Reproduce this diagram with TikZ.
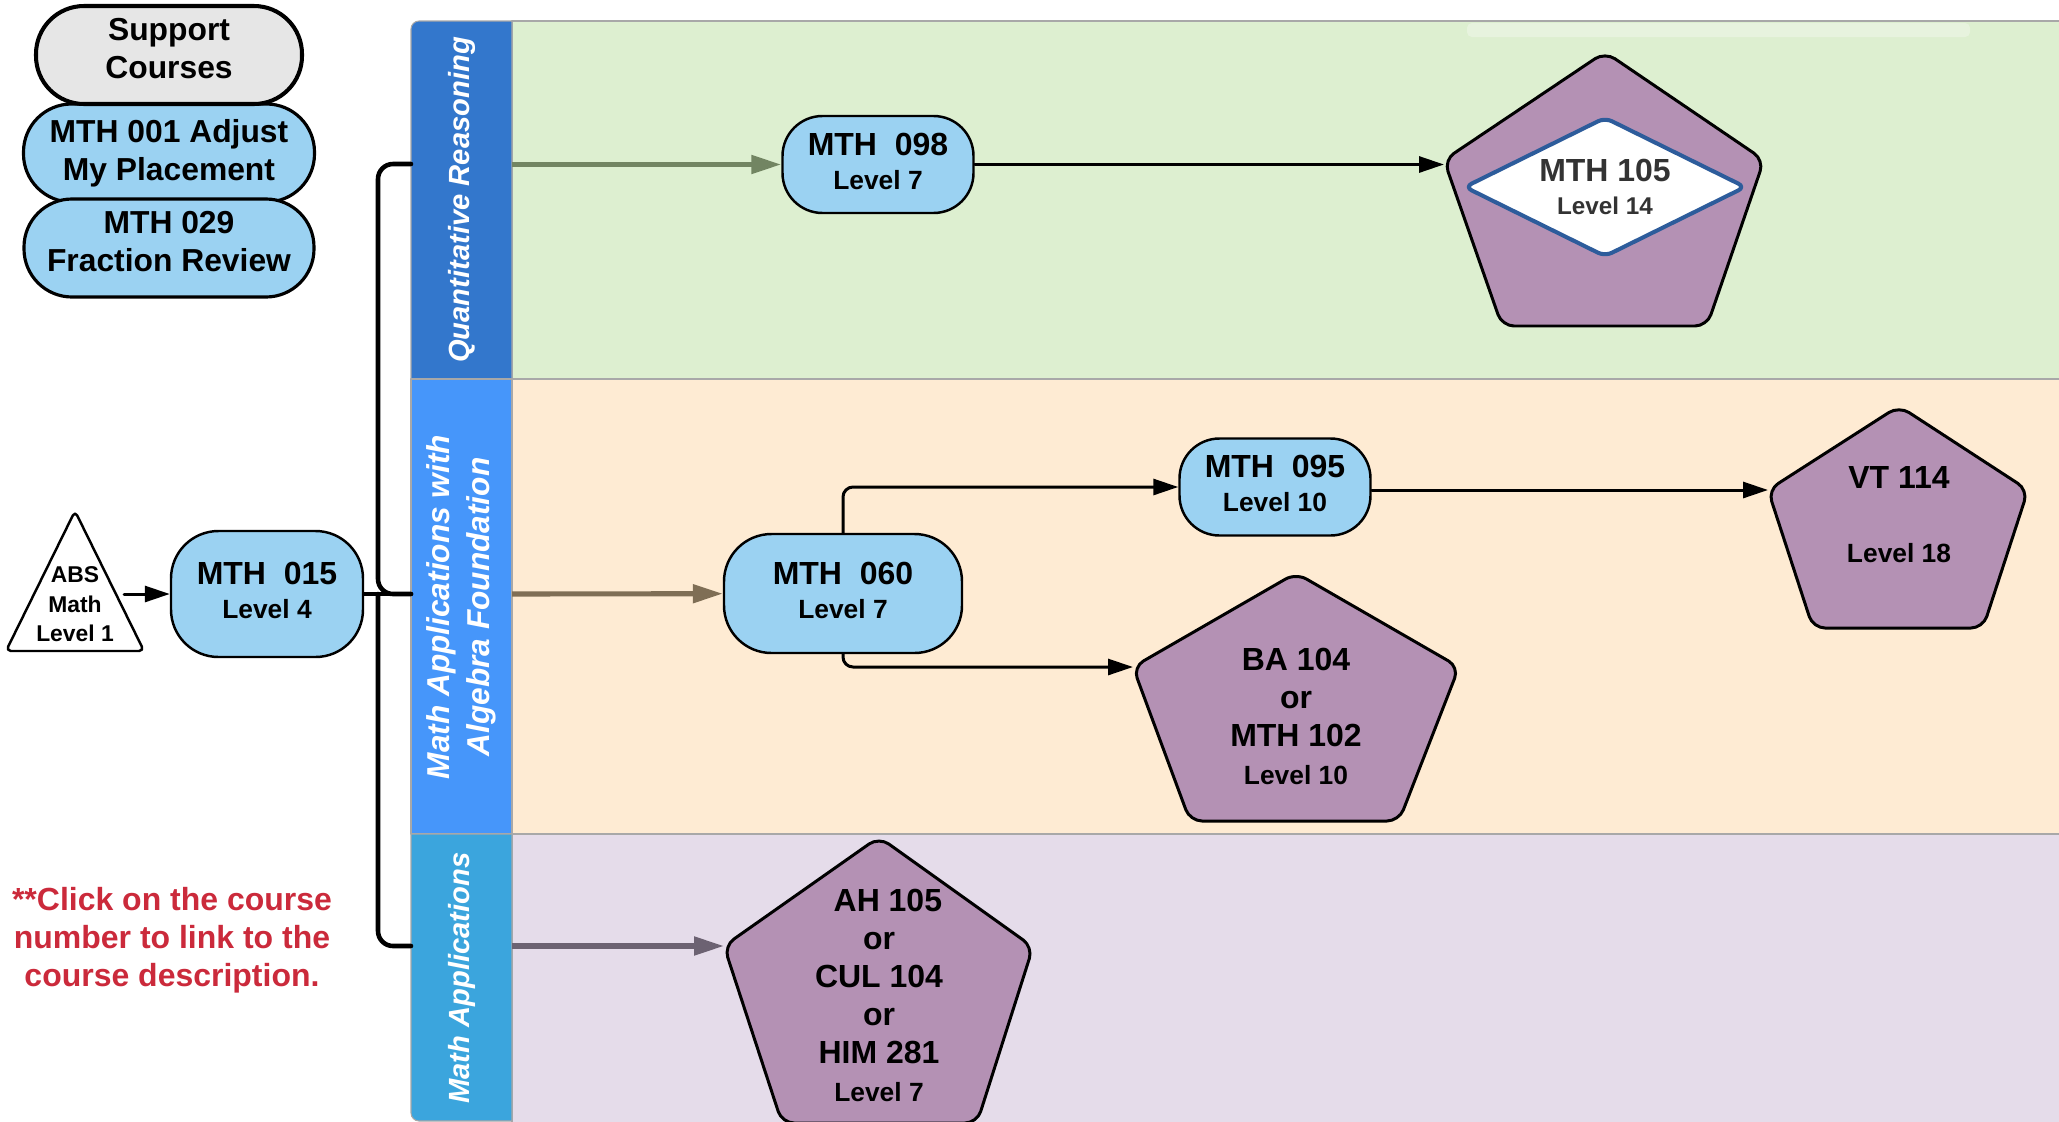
\documentclass[tikz,border=0pt]{standalone}
\usepackage{fontspec}
\setmainfont{Liberation Sans}
\usepackage{tikz}
\usetikzlibrary{arrows.meta}
\usetikzlibrary{shapes.geometric}
\usetikzlibrary{calc}

\definecolor{qrblue}{RGB}{51,119,204}
\definecolor{mabblue}{RGB}{70,150,250}
\definecolor{mablue}{RGB}{59,165,221}
\definecolor{qrlane}{RGB}{221,239,208}
\definecolor{mablane}{RGB}{254,235,211}
\definecolor{malane}{RGB}{229,220,234}
\definecolor{coursebl}{RGB}{155,210,242}
\definecolor{pentpurple}{RGB}{180,145,180}
\definecolor{suppgray}{RGB}{230,230,230}
\definecolor{notered}{RGB}{203,42,59}
\definecolor{qrarrow}{RGB}{114,133,98}
\definecolor{mabarrow}{RGB}{127,110,85}
\definecolor{maarrow}{RGB}{108,98,114}
\definecolor{diamblue}{RGB}{45,92,155}
\definecolor{lanegray}{RGB}{168,168,168}
\definecolor{textgray}{RGB}{51,51,51}

\newcommand{\lvltext}[1]{{\fontsize{15}{19.5}\selectfont #1}}

\begin{document}
\begin{tikzpicture}[line cap=round,line join=round,x=2.0cm,y=2.0cm,
  course/.style={draw=black,line width=1.4pt,fill=coursebl,rounded corners=0.8cm,inner sep=0pt,text depth=0.14cm,align=center,font=\bfseries\fontsize{18.2}{19.5}\selectfont},
  suppcourse/.style={draw=black,line width=1.8pt,fill=coursebl,rounded corners=0.96cm,inner sep=0pt,minimum width=5.82cm,minimum height=1.96cm,align=center,font=\bfseries\fontsize{18.1}{21.5}\selectfont},
  pent/.style={draw=black,line width=1.7pt,fill=pentpurple,rounded corners=0.24cm},
  penttext/.style={align=center,font=\bfseries\fontsize{18.2}{21.6}\selectfont},
  hdrtext/.style={rotate=90,text=white,align=center,font=\bfseries\itshape\fontsize{16.6}{22.7}\selectfont},
  lanebox/.style={draw=lanegray,line width=0.6pt},
  arr/.style={-{Triangle[length=0.5cm,width=0.32cm]},line width=1.7pt},
  lanearr/.style={-{Triangle[length=0.6cm,width=0.36cm]},line width=2.9pt,line cap=butt},
  bus/.style={line width=2.6pt}]
\clip(0.,-11.21) rectangle (20.59,0.);
%\draw[help lines] (0.,-11.21) grid (20.59,0.);

% lanes
\filldraw[lanebox,fill=qrlane] (5.12,-0.21) rectangle (21.,-3.79);
\filldraw[lanebox,fill=mablane] (5.12,-3.79) rectangle (21.,-8.34);
\filldraw[lanebox,fill=malane] (5.12,-8.34) rectangle (21.,-11.5);
\fill[white,opacity=0.3,rounded corners=0.1cm] (14.67,-0.23) rectangle (19.70,-0.37);
\filldraw[lanebox,fill=qrblue] (5.12,-3.79) -- (4.11,-3.79) -- (4.11,-0.29) arc[start angle=180,end angle=90,radius=0.08] -- (5.12,-0.21) -- cycle;
\filldraw[lanebox,fill=mabblue] (4.11,-3.79) rectangle (5.12,-8.34);
\filldraw[lanebox,fill=mablue] (5.12,-8.34) -- (4.11,-8.34) -- (4.11,-11.13) arc[start angle=180,end angle=270,radius=0.08] -- (5.12,-11.21) -- cycle;
\draw (4.615,-2.00) node[hdrtext] (qrlab) {Quantitative Reasoning};
\draw (4.615,-6.07) node[hdrtext,font=\bfseries\itshape\fontsize{18}{22.7}\selectfont] (mablab) {Math Applications with\\Algebra Foundation};
\draw (4.615,-9.78) node[hdrtext] (malab) {Math Applications};

\coordinate (qrin) at (4.11,-1.64);
\coordinate (mabin) at (4.11,-5.94);
\coordinate (main) at (4.11,-9.46);
\coordinate (qrout) at (5.12,-1.645);
\coordinate (mabout) at (5.12,-5.94);
\coordinate (maout) at (5.12,-9.46);

% support courses
\draw (1.69,-1.53) node[suppcourse] (mth001) {MTH 001 Adjust\\My Placement};
\draw (1.69,-0.55) node[suppcourse,fill=suppgray,line width=2.3pt,minimum width=5.32cm,text depth=0.26cm] (support) {Support\\Courses};
\draw (1.69,-2.48) node[suppcourse,minimum width=5.80cm,text depth=0.26cm] (mth029) {MTH 029\\Fraction Review};

% courses
\draw[line width=1.4pt,fill=white,rounded corners=0.1cm] (0.75,-5.11) -- (1.44,-6.51) -- (0.06,-6.51) -- cycle;
\draw (0.75,-6.045) node[align=center,inner xsep=0.2cm,font=\bfseries\fontsize{13}{16.8}\selectfont] (abs) {ABS\\Math\\Level 1};
\draw (2.67,-5.94) node[course,minimum width=3.84cm,minimum height=2.52cm,rounded corners=0.95cm] (mth015) {MTH\ \ 015\\\lvltext{Level 4}};
\draw (8.78,-1.645) node[course,minimum width=3.82cm,minimum height=1.94cm] (mth098) {MTH\ \ 098\\\lvltext{Level 7}};
\draw (8.43,-5.935) node[course,minimum width=4.76cm,minimum height=2.38cm,rounded corners=0.95cm] (mth060) {MTH\ \ 060\\\lvltext{Level 7}};
\draw (12.75,-4.87) node[course,minimum width=3.82cm,minimum height=1.94cm] (mth095) {MTH\ \ 095\\\lvltext{Level 10}};

\draw[pent] (16.05,-0.52) -- (17.64,-1.60) -- (17.07,-3.26) -- (15.02,-3.26) -- (14.44,-1.60) coordinate (m105w) -- cycle;
\draw (16.05,-1.87) node[diamond,aspect=2,draw=diamblue,line width=2.3pt,fill=white,rounded corners=0.15cm,minimum width=5.64cm,minimum height=2.80cm,inner sep=0pt,align=center,text=textgray,font=\bfseries\fontsize{18.2}{18.7}\selectfont] (mth105) {MTH 105\\{\fontsize{13.8}{18.7}\selectfont Level 14}};

\draw[pent] (18.99,-4.06) -- (20.28,-4.90) -- (19.83,-6.28) -- (18.13,-6.28) -- (17.68,-4.90) coordinate (vtw) -- cycle;
\draw (18.99,-5.145) node[penttext] (vt114) {VT 114\\[20.5pt]\lvltext{Level 18}};

\draw[pent] (12.96,-5.73) -- (14.59,-6.67) -- (13.99,-8.21) -- (11.90,-8.21) -- (11.33,-6.67) coordinate (baw) -- cycle;
\draw (12.96,-7.165) node[penttext] (ba104) {BA 104\\or\\MTH 102\\\lvltext{Level 10}};

\draw[pent] (8.79,-8.37) -- (10.33,-9.47) -- (9.77,-11.23) -- (7.82,-11.23) -- (7.24,-9.46) coordinate (ahw) -- cycle;
\draw (8.79,-9.955) node[penttext] (ah105) {\ \ AH 105\\or\\CUL 104\\or\\HIM 281\\\lvltext{Level 7}};

\draw (1.72,-9.40) node[align=center,text=notered,font=\bfseries\fontsize{18.2}{21.6}\selectfont] (clicknote) {**Click on the course\\number to link to the\\course description.};

% connectors
\draw[bus] (mth015) -- (mabin);
\draw[bus,rounded corners=0.3cm] (qrin) -| (3.78,-5.94) -- (mabin);
\draw[bus,rounded corners=0.3cm] (main) -| (3.78,-5.94);
\draw[lanearr,qrarrow] (qrout) -- (mth098);
\draw[lanearr,mabarrow] (mabout) -- (mth060);
\draw[lanearr,maarrow] (maout) -- (ahw);
\draw[arr] (abs.east |- mth015) -- (mth015);
\draw[arr] (mth098) -- (mth098 -| m105w);
\draw[arr,rounded corners=0.2cm] (mth060.north) |- (mth095);
\draw[arr,rounded corners=0.2cm] (mth060.south) |- (baw);
\draw[arr] (mth095.east |- vtw) -- (vtw);
\end{tikzpicture}
\end{document}
